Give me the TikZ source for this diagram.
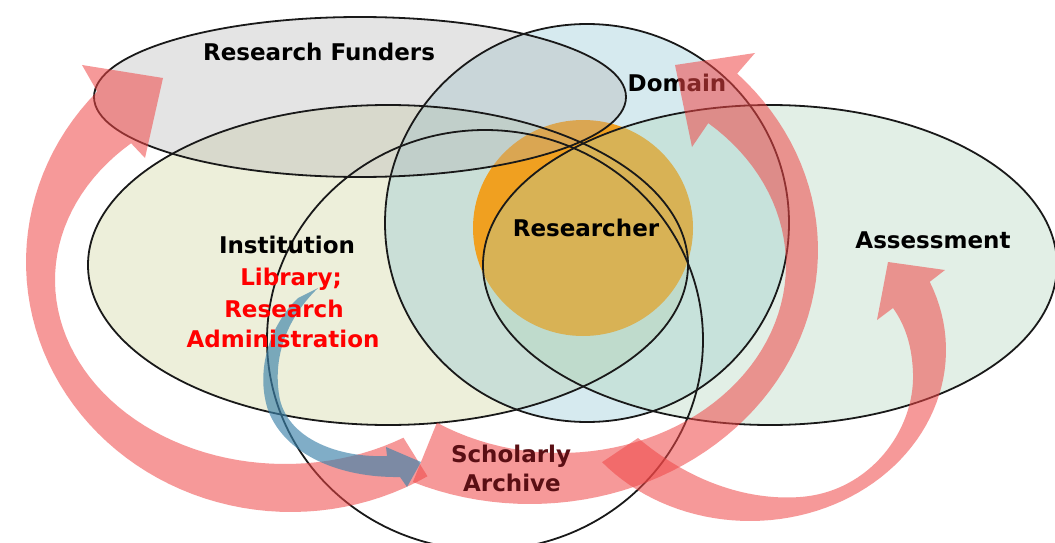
\documentclass[tikz,border=0pt]{standalone}
\usepackage{fontspec}
\setmainfont{DejaVu Sans}
\definecolor{instfill}{RGB}{206,212,149}
\definecolor{domfill}{RGB}{138,195,212}
\definecolor{assessfill}{RGB}{172,212,184}
\definecolor{fundfill}{RGB}{178,178,178}
\definecolor{resfill}{RGB}{240,160,32}
\definecolor{arrowred}{RGB}{240,70,70}
\definecolor{arrowblue}{RGB}{60,130,170}
\definecolor{txtred}{RGB}{255,0,0}
\definecolor{txtmaroon}{RGB}{90,15,20}
\tikzset{
  venn/.style={draw=black!90, line width=1.8pt},
  lbl/.style={font=\fontsize{23}{28}\selectfont\bfseries, anchor=base, inner sep=0pt},
  redarrow/.style={fill=arrowred, fill opacity=0.55},
  bluearrow/.style={fill=arrowblue, fill opacity=0.65},
}
\begin{document}
\begin{tikzpicture}[x=1pt,y=-1pt]
\fill[white] (0,0) rectangle (1055,543);
\useasboundingbox (0,0) rectangle (1055,543);

% fills
\fill[instfill, fill opacity=0.35] (388,265) ellipse [x radius=300, y radius=160];
\fill[domfill, fill opacity=0.35] (587,223) ellipse [x radius=202, y radius=199];
\fill[resfill] (583,228) ellipse [x radius=110, y radius=108];
\fill[fundfill, fill opacity=0.35] (360,97) ellipse [x radius=266, y radius=80];
\fill[assessfill, fill opacity=0.35] (770,265) ellipse [x radius=287, y radius=160];

% outlines
\draw[venn] (388,265) ellipse [x radius=300, y radius=160];
\draw[venn] (587,223) ellipse [x radius=202, y radius=199];
\draw[venn] (360,97) ellipse [x radius=266, y radius=80];
\draw[venn] (770,265) ellipse [x radius=287, y radius=160];
\draw[venn] (485,340) ellipse [x radius=218, y radius=210];

% label partly under an arrow
\node[lbl] (domain) at (677,92) {Domain};

% arrow A: to Research Funders
\fill[redarrow] plot[domain=59:223, samples=60] ({291+265*cos(\x)},{262+250*sin(\x)})
  -- (82,65) -- (163,78) -- (145,158) --
  plot[domain=228:59, samples=60] ({285+230*cos(\x)},{280+184*sin(\x)})
  -- cycle;

% arrow B: to Domain
\fill[redarrow] plot[domain=114:-44, samples=60] ({530+288*cos(\x)},{250+254*sin(\x)})
  -- (755,53) -- (675,65) -- (692,147) --
  plot[domain=-49:123, samples=60] ({560+226*cos(\x)},{265+188*sin(\x)})
  -- cycle;

% arrow C: to Assessment
\fill[redarrow] (638,438) .. controls (700,490) and (760,500) .. (800,497)
  .. controls (870,492) and (915,430) .. (913,373)
  .. controls (912,345) and (905,325) .. (893,308)
  -- (877,320) -- (888,262) -- (945,270) --
  plot[domain=-23.5:139, samples=60] ({750+196*cos(\x)},{350+171*sin(\x)})
  -- cycle;

% blue arrow
\fill[bluearrow] (318,288) .. controls (285,320) and (272,360) .. (280,400)
  .. controls (290,440) and (340,458) .. (387,456)
  -- (386,447) -- (421,462) -- (407,487) -- (400,477)
  .. controls (340,478) and (285,455) .. (268,410)
  .. controls (255,370) and (270,325) .. (298,298)
  -- cycle;

% labels
\node[lbl] (funders) at (319,61) {Research Funders};
\node[lbl] (researcher) at (586,236) {Researcher};
\node[lbl] (assessment) at (933,248) {Assessment};
\node[lbl] (institution) at (287,253) {Institution};
\node[lbl, text=txtred] (library) at (291,285) {Library;};
\node[lbl, text=txtred] (resadm1) at (284,317) {Research};
\node[lbl, text=txtred] (resadm2) at (283,347) {Administration};
\node[lbl, text=txtmaroon] (scholarly) at (511,462) {Scholarly};
\node[lbl, text=txtmaroon] (archive) at (512,491) {Archive};
\end{tikzpicture}
\end{document}
